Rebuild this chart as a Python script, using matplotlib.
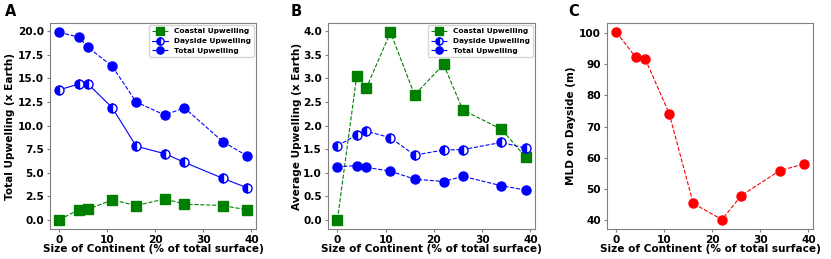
import matplotlib
matplotlib.use('Agg')
import matplotlib.pyplot as plt

plt.rcParams['font.weight'] = 'bold'
plt.rcParams['axes.labelweight'] = 'bold'

size = [0, 4, 6, 11, 16, 22, 26, 34, 39]

tot_total = [19.9, 19.4, 18.3, 16.3, 12.5, 11.1, 11.9, 8.3, 6.8]
tot_dayside = [13.8, 14.4, 14.4, 11.9, 7.8, 7.0, 6.1, 4.4, 3.4]
tot_coastal = [0.0, 1.05, 1.1, 2.1, 1.5, 2.2, 1.65, 1.5, 1.05]

avg_coastal = [0.0, 3.05, 2.8, 3.98, 2.65, 3.3, 2.33, 1.92, 1.33]
avg_dayside = [1.57, 1.8, 1.88, 1.74, 1.37, 1.48, 1.49, 1.64, 1.52]
avg_total = [1.12, 1.15, 1.11, 1.03, 0.86, 0.81, 0.92, 0.72, 0.63]

mld = [100.2, 92.3, 91.7, 74.2, 45.4, 40.2, 47.9, 55.9, 58.0]

fig = plt.figure(figsize=(8.31, 2.59), dpi=100)
axA = fig.add_axes([50/831, 1-229/259, 206/831, 206/259])
axB = fig.add_axes([328/831, 1-229/259, 207/831, 206/259])
axC = fig.add_axes([607/831, 1-229/259, 206/831, 206/259])

ms = 6.5
half = dict(marker='o', fillstyle='left', markerfacecoloralt='white', markeredgecolor='blue', ms=ms)

axA.plot(size, tot_coastal, 's--', color='green', ms=ms, lw=0.8, label='Coastal Upwelling')
axA.plot(size, tot_dayside, '-', color='blue', lw=0.8, label='Dayside Upwelling', **half)
axA.plot(size, tot_total, 'o--', color='blue', ms=ms, lw=0.8, label='Total Upwelling')
axA.set_ylabel('Total Upwelling (x Earth)')
axA.set_yticks([0, 2.5, 5, 7.5, 10, 12.5, 15, 17.5, 20])

axB.plot(size, avg_coastal, 's--', color='green', ms=ms, lw=0.8, label='Coastal Upwelling')
axB.plot(size, avg_dayside, '--', color='blue', lw=0.8, label='Dayside Upwelling', **half)
axB.plot(size, avg_total, 'o--', color='blue', ms=ms, lw=0.8, label='Total Upwelling')
axB.set_ylabel('Average Upwelling (x Earth)')
axB.set_yticks([0, 0.5, 1, 1.5, 2, 2.5, 3, 3.5, 4])

axC.plot(size, mld, 'o--', color='red', ms=ms, lw=0.8)
axC.set_ylabel('MLD on Dayside (m)')
axC.set_yticks([40, 50, 60, 70, 80, 90, 100])

letter_x = [-0.22, -0.18, -0.19]
ylab_x = [-0.17, -0.126, -0.15]
for ax, letter, lx, yx in zip([axA, axB, axC], ['A', 'B', 'C'], letter_x, ylab_x):
    ax.set_xlabel('Size of Continent (% of total surface)', fontsize=7.6)
    ax.yaxis.label.set_size(7.6)
    ax.xaxis.set_label_coords(0.5, -0.073)
    ax.yaxis.set_label_coords(yx, 0.5)
    ax.set_xticks([0, 10, 20, 30, 40])
    ax.tick_params(labelsize=7.6, length=2.5, pad=2, color='gray')
    for s in ax.spines.values():
        s.set_color('gray')
    ax.text(lx, 1.034, letter, transform=ax.transAxes, fontsize=10.5, fontweight='bold')

for ax in [axA, axB]:
    ax.legend(loc='upper right', prop={'weight': 'bold', 'size': 5.3}, numpoints=1,
              markerscale=0.8, borderaxespad=0.3, handlelength=2.2)

plt.savefig('out.png', dpi=100)
